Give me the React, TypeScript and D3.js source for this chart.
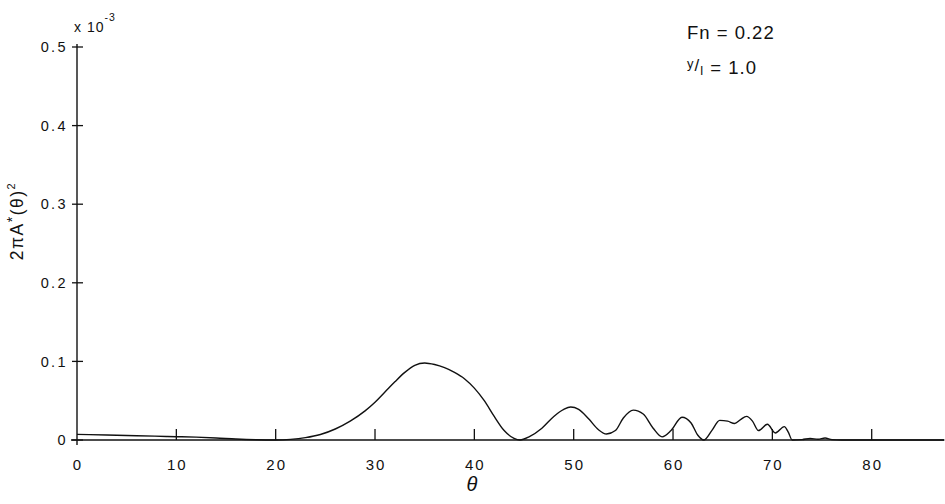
import React from "react";
import * as d3 from "d3";

// Wave amplitude spectrum 2πA*(θ)² (×10⁻³) against heading angle θ
const theta = [
  0, 3, 6, 9, 10, 12, 14, 16, 18, 20, 21.5, 23, 24.5, 26, 27.5, 29, 30, 31, 32, 33,
  34, 35, 36, 37, 38, 39, 40, 41, 42, 43, 44, 44.6, 45.5, 46.8, 48, 49, 49.7, 50.5,
  51.5, 52.5, 53.3, 54.2, 55, 56, 57, 58, 58.9, 59.8, 60.9, 61.8, 62.5, 63.1, 63.9,
  64.7, 65.5, 66.2, 66.8, 67.4, 68, 68.6, 69.5, 70.3, 71.2, 71.6, 72, 73, 73.8, 74.6,
  75.3, 76, 77, 87.3,
];
const amplitude = [
  0.0072, 0.0064, 0.0055, 0.0045, 0.0042, 0.0036, 0.0026, 0.0012, 0.0003, 0.0, 0.0008,
  0.003, 0.007, 0.014, 0.024, 0.037, 0.048, 0.061, 0.074, 0.086, 0.095, 0.098, 0.096,
  0.092, 0.086, 0.078, 0.066, 0.05, 0.03, 0.012, 0.002, 0.0, 0.004, 0.015, 0.03, 0.039,
  0.042, 0.039, 0.027, 0.013, 0.0076, 0.012, 0.028, 0.038, 0.033, 0.015, 0.004, 0.012,
  0.029, 0.022, 0.006, 0.0, 0.012, 0.025, 0.024, 0.021, 0.026, 0.03, 0.024, 0.012, 0.02,
  0.009, 0.017, 0.01, 0.0, 0.0005, 0.002, 0.001, 0.0025, 0.0005, 0.0, 0.0,
];
const thetaTicks = [0, 10, 20, 30, 40, 50, 60, 70, 80];
const ampTicks = [0, 0.1, 0.2, 0.3, 0.4, 0.5];
const ampTickLabels = ["0", "0.1", "0.2", "0.3", "0.4", "0.5"];

const W = 945;
const H = 504;
const FONT = "'Liberation Sans', 'DejaVu Sans', sans-serif";

export default function App() {
  const x = d3.scaleLinear().domain([0, 80]).range([77, 871.7]);
  const y = d3.scaleLinear().domain([0, 0.5]).range([440, 47]);

  const points: [number, number][] = theta.map((t, i) => [t, amplitude[i]]);
  const line = d3
    .line<[number, number]>()
    .x((d) => x(d[0]))
    .y((d) => y(d[1]))
    .curve(d3.curveMonotoneX);

  const x0 = x(0);
  const y0 = y(0);
  const xEnd = x(87.3);

  return (
    <svg
      width={W}
      height={H}
      style={{ position: "absolute", left: 0, top: 0, background: "#fff" }}
      fontFamily={FONT}
    >
      <rect width={W} height={H} fill="#fff" />
      {/* axes */}
      <line x1={x0} x2={x0} y1={y(0.5) - 3} y2={y0 + 5} stroke="#111" strokeWidth={1.4} />
      <line x1={x0 - 6} x2={xEnd} y1={y0} y2={y0} stroke="#111" strokeWidth={1.4} />

      {/* y ticks and labels */}
      {ampTicks.map((v, i) => (
        <g key={"yt" + i}>
          <line x1={x0 - 5} x2={x0 + 6} y1={y(v)} y2={y(v)} stroke="#111" strokeWidth={1.3} />
          <text
            x={x0 - 9}
            y={y(v)}
            dy="0.36em"
            textAnchor="end"
            fontSize={14.5}
            letterSpacing={2.4}
            fill="#111"
          >
            {ampTickLabels[i]}
          </text>
        </g>
      ))}

      {/* x ticks and labels */}
      {thetaTicks.map((v) => (
        <g key={"xt" + v}>
          {v > 0 && (
            <line x1={x(v)} x2={x(v)} y1={y0} y2={y0 - 11} stroke="#111" strokeWidth={1.3} />
          )}
          <text
            x={x(v) + 1}
            y={y0 + 25}
            dy="0.36em"
            textAnchor="middle"
            fontSize={15}
            letterSpacing={2}
            fill="#111"
          >
            {String(v)}
          </text>
        </g>
      ))}

      {/* curve */}
      <path d={line(points) ?? ""} fill="none" stroke="#111" strokeWidth={1.4} />

      {/* axis titles */}
      <text x={472} y={491} textAnchor="middle" fontSize={20} fontStyle="italic" fill="#111">
        θ
      </text>
      <text
        transform="translate(23,221) rotate(-90)"
        textAnchor="middle"
        fontSize={17.5}
        letterSpacing={1.5}
        fill="#111"
      >
        2πA
        <tspan dy={-6} fontSize={14}>*</tspan>
        <tspan dy={6}>(θ)</tspan>
        <tspan dy={-8} fontSize={11}>2</tspan>
      </text>

      {/* scale factor */}
      <text x={74} y={32} fontSize={14} letterSpacing={1} fill="#111">
        x 10
        <tspan dy={-11} fontSize={10.5}>-3</tspan>
      </text>

      {/* parameters */}
      <text x={687} y={39} fontSize={18.5} letterSpacing={1} fill="#111">
        Fn = 0.22
      </text>
      <text x={687} y={74} fontSize={18.5} letterSpacing={1} fill="#111">
        <tspan dy={-6} fontSize={13}>y</tspan>
        <tspan dy={3} fontSize={17}>/</tspan>
        <tspan dy={4} fontSize={13}>l</tspan>
        <tspan dy={-1}> = 1.0</tspan>
      </text>
    </svg>
  );
}
